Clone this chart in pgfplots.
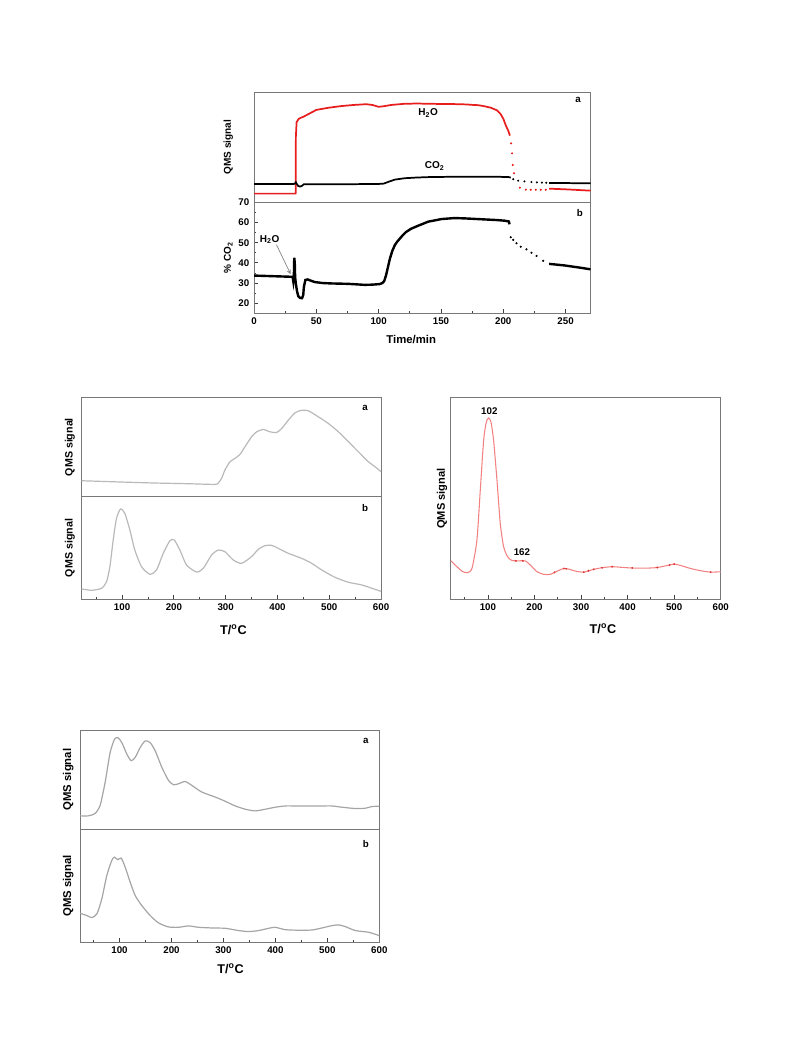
\documentclass[border=0pt]{standalone}
\usepackage{pgfplots}
\pgfplotsset{compat=1.18}
\usepackage{fontspec}
\setmainfont{Liberation Sans}

\definecolor{h2ored}{RGB}{232,30,30}
\definecolor{curvegray}{RGB}{185,185,185}
\definecolor{curvegrayb}{RGB}{165,165,165}
\definecolor{pinkline}{RGB}{242,130,130}
\definecolor{pinkmark}{RGB}{225,60,60}
\definecolor{framegray}{RGB}{120,120,120}

\newcommand\tk{\fontsize{7.3}{8}\selectfont\bfseries}

\pgfplotsset{
  panel/.style={
    scale only axis, anchor=south west,
    axis line style={draw=framegray, line width=0.75pt},
    tick style={draw=black!75, line width=0.6pt},
    tick align=inside, major tick length=3pt, minor tick length=1.8pt,
    xtick pos=left, ytick pos=left,
    tick label style={font=\tk},
    /pgf/number format/assume math mode=true,
  },
  qmsy/.style 2 args={
    ytick=\empty, ymin=0, ymax=100,
    ylabel={QMS signal},
    ylabel style={font=\fontsize{#2}{#2}\selectfont\bfseries,
      at={([xshift=-#1]axis description cs:0,0.5)}, anchor=center},
  },
  tlabel/.style 2 args={
    xlabel={T/\textsuperscript{o}C},
    xlabel style={font=\fontsize{9.5}{10}\selectfont\bfseries,
      at={([yshift=-#2]axis description cs:#1,0)}, anchor=center},
  },
}

\begin{document}
\begin{tikzpicture}
\path[use as bounding box] (0,0) rectangle (594.75pt,-792.75pt);

% ---------- top figure, panel a ----------
\begin{axis}[panel, at={(190.5pt,-151.73pt)}, width=252.4pt, height=82.5pt,
  xmin=0, xmax=270, xtick=\empty, qmsy={19.3pt}{7.5}]
\addplot[h2ored, line width=1.3pt] coordinates {
  (0,7.9) (33.4,7.9) (33.6,60) (34.2,73) (36,76) (40,78) (45,81) (50,84)
  (55,85) (60,86) (70,87.5) (80,88.5) (90,89.2) (95,88.5) (100,86.8)
  (105,87.5) (110,88.5) (120,89.5) (130,89.8) (140,89.6) (150,89.4)
  (160,89.3) (170,89) (175,88.6) (180,88.3) (185,87.3) (190,86) (195,83.6)
  (198,80) (200,76) (202,70) (204,65) (205.3,60.6)
};
\addplot[h2ored, only marks, mark=*, mark size=0.55pt] coordinates {
  (206.3,53.6) (207,44.5) (207.6,34) (208.6,26.4) (213.3,13.3) (218.1,11.5)
  (222.1,11.4) (226.1,11.4) (230.1,11.4) (234.1,11.4)
};
\addplot[h2ored, line width=1.3pt] coordinates {
  (236.8,12.4) (250,11.8) (260,11.2) (270,10.6)
};
\addplot[black, line width=1.3pt] coordinates {
  (0,16.7) (32,16.7) (33,17.2) (33.6,18.2) (34.3,16.8) (35.5,14.8) (37,14.3)
  (38.5,15) (40,16.4) (45,16.5) (60,16.4) (80,16.5) (100,16.7) (104,17)
  (107.6,18.5) (112.9,20.6) (121,21.9) (130,22.5) (142,23) (160,23.2)
  (182,23.3) (195,23.2) (204,23) (206,22.5)
};
\addplot[black, only marks, mark=*, mark size=0.55pt] coordinates {
  (208,21) (212,19.7) (217,19) (222.6,18.4) (227,18.1) (231,17.9) (234.5,17.8)
};
\addplot[black, line width=1.3pt] coordinates {(236.8,17.6) (270,17.3)};
\node[font=\fontsize{7.5}{8}\selectfont\bfseries] at (axis cs:139.7,80.9) {H\textsubscript{2}O};
\node[font=\fontsize{7.5}{8}\selectfont\bfseries] at (axis cs:145,33) {CO\textsubscript{2}};
\node[font=\tk] at (axis cs:260,93) {a};
\end{axis}

% ---------- top figure, panel b ----------
\begin{axis}[panel, at={(190.5pt,-234.98pt)}, width=252.4pt, height=83.25pt,
  xmin=0, xmax=270, ymin=15, ymax=70,
  xtick={0,50,...,250}, minor xtick={25,75,...,225},
  ytick={20,30,...,70}, minor ytick={15,25,...,65},
  ylabel={\% CO\textsubscript{2}},
  ylabel style={font=\fontsize{7.5}{8}\selectfont\bfseries,
    at={([xshift=-19.3pt]axis description cs:0,0.5)}, anchor=center},
  xlabel={Time/min},
  xlabel style={font=\fontsize{8.5}{9}\selectfont\bfseries,
    at={([yshift=-20pt]axis description cs:0.467,0)}, anchor=center}]
\addplot[black, line width=1.8pt] coordinates {
  (0,33.7) (10,33.5) (20,33.3) (30,33.1) (31,33) (31.5,31) (32,34) (32.3,42.5)
  (32.7,40) (33,33) (33.5,30) (34.5,26) (35.5,23.5) (37,22.6) (38.5,22.5)
  (39.5,24) (40,28) (41.2,31.5) (43,31.8) (45,31.3) (48.7,30.5) (55,30)
  (62,29.8) (75.5,29.6) (88.8,29.1) (95,29.2) (100.9,29.5) (103,30)
  (104.5,31) (106,34) (107.5,38) (109,42) (111,46) (113,48.8) (115,50.6)
  (117,52) (119.5,53.8) (122,55.3) (126,56.9) (131.7,58.4) (139.7,60.4)
  (150.4,61.7) (161,62.2) (170,62) (182.5,61.6) (195,61.2) (201,60.9)
  (204.5,60.5) (205,59.1)
};
\addplot[black, only marks, mark=*, mark size=0.6pt] coordinates {
  (206,52.7) (208,51.4) (210.6,49.7) (214,48) (218.6,46.7) (222.6,45)
  (226.7,43.4) (232,41)
};
\addplot[black, line width=1.8pt] coordinates {
  (236.8,39.5) (240,39.3) (249.4,38.7) (262.8,37.5) (270,36.8)
};
\draw[-stealth, gray, line width=0.5pt] (axis cs:18,49) -- (axis cs:29.4,34.4);
\node[font=\fontsize{7.5}{8}\selectfont\bfseries] at (axis cs:12.6,51.5) {H\textsubscript{2}O};
\node[font=\tk] at (axis cs:261.5,64.9) {b};
\end{axis}

% ---------- middle left, panel a ----------
\begin{axis}[panel, at={(61.28pt,-372.53pt)}, width=224.5pt, height=74.4pt,
  xmin=22, xmax=600, xtick=\empty, qmsy={8.8pt}{8}]
\addplot[curvegray, line width=0.9pt, smooth, tension=0.4] coordinates {
  (21.6,16.1) (98.9,14.8) (163.3,13.8) (227.7,13.1) (279.2,12.4) (285.6,13.8)
  (292.1,18.5) (298.5,26.8) (308.2,35.2) (317.8,38.6) (327.5,42.6)
  (337.2,50.3) (350,60.4) (359.8,65.4) (372.7,67.8) (385.6,65.4)
  (398.5,64.8) (408.2,68.8) (421,77.2) (433.9,84.6) (446.8,87.2)
  (459.7,86.6) (479,80.5) (498.4,73.8) (517.7,65.4) (537,55.4) (556.3,45.3)
  (575.6,35.2) (588.5,30.2) (600,25.2)
};
\node[font=\tk] at (axis cs:569,90) {a};
\end{axis}

% ---------- middle left, panel b ----------
\begin{axis}[panel, at={(61.28pt,-449.48pt)}, width=224.5pt, height=76.95pt,
  xmin=22, xmax=600, xtick={100,200,...,600}, minor xtick={50,150,...,550},
  qmsy={8.8pt}{8}, tlabel={0.507}{23pt}]
\addplot[curvegray, line width=0.9pt, smooth, tension=0.4] coordinates {
  (21.6,10.1) (40.9,8.8) (60.3,10.7) (70,17.2) (76.4,31.8) (82.8,57.8)
  (89.2,78.9) (97,88) (105.3,83.8) (115,67.5) (124.6,48) (137.5,31.8)
  (153.6,24.4) (166.5,28.6) (179.4,44.8) (192.3,57.1) (200.7,57.8)
  (211.6,48) (224.5,33.4) (243.8,26.6) (256.7,30.2) (272.8,43.2)
  (285.6,48) (298.6,46.4) (314.7,38.3) (330.8,35.1) (350,41.6) (363,48.7)
  (375.9,52.3) (388.8,52.6) (401.6,49.7) (421,44.8) (446.8,39.9)
  (466.1,35.1) (485.4,28.6) (511.2,21.4) (537,16.6) (562.7,14) (588.5,9.7)
  (600,7.8)
};
\node[font=\tk] at (axis cs:569,88.6) {b};
\end{axis}

% ---------- middle right ----------
\begin{axis}[panel, at={(338.03pt,-449.48pt)}, width=202.5pt, height=151pt,
  xmin=20, xmax=600, xtick={100,200,...,600}, minor xtick={50,150,...,550},
  qmsy={6.5pt}{8.3}, tlabel={0.564}{21.75pt}]
\addplot[pinkline, line width=0.8pt, smooth, tension=0.4] coordinates {
  (20.4,19.1) (33.3,16.2) (44,14) (54.8,13.2) (65.6,15.3) (76.3,29.4)
  (83.5,54.1) (90.7,78.9) (96.4,88) (101.4,90.1) (106.5,88) (112.2,78.9)
  (119.4,59.1) (126.5,37.6) (133.7,26.1) (142.3,21.1) (151.6,19.3)
  (166,19.1) (180.3,19.1) (191.1,17) (205.5,13.7) (219.8,12.4)
  (234.1,12.4) (248.5,14) (262.8,15.3) (273.6,15) (288,14) (305.9,13.5)
  (327.4,14.9) (345.3,15.7) (366.9,16.2) (392,15.8) (413.5,15.5)
  (442.2,15.5) (463.7,15.8) (485.2,16.8) (499.6,17.5) (514,16.8)
  (535.4,15.3) (557,14.2) (578.5,13.5) (600,13.7)
};
\addplot[pinkmark, only marks, mark=*, mark size=0.5pt] coordinates {
  (160,19.1) (175,19.1) (243,13.4) (263,15.3) (268,15.2) (305.9,13.5)
  (316,14.2) (327.4,14.9) (345.3,15.7) (366.9,16.2) (410,15.6) (463.7,15.8)
  (490,17) (500,17.5) (578.5,13.5)
};
\node[font=\tk] at (axis cs:103,93.7) {102};
\node[font=\tk] at (axis cs:173,23.6) {162};
\end{axis}

% ---------- bottom, panel a ----------
\begin{axis}[panel, at={(60pt,-621.75pt)}, width=224.5pt, height=74.25pt,
  xmin=24, xmax=600, xtick=\empty, qmsy={8.8pt}{8.5}]
\addplot[curvegrayb, line width=0.9pt, smooth, tension=0.4] coordinates {
  (24.3,13.3) (40.3,13.3) (53.1,15.7) (62.8,24) (72.4,47.3) (82,77.3)
  (90.4,90.7) (96.8,92.3) (104.5,87.3) (114.1,75.7) (122.5,69) (130.2,72.3)
  (139.8,82.3) (149.4,89) (159,87.3) (168.7,79) (181.5,62.3) (194.4,49)
  (204,44.7) (213.6,45.7) (226.4,48) (239.3,44) (258.5,37.3) (284.2,32.3)
  (303.5,28) (322.7,23.3) (342,20) (361.2,18.3) (380.5,20) (399.7,22)
  (419,23.3) (438.3,23.3) (463.9,23.3) (489.6,23.3) (508.9,23.3)
  (528.1,22) (553.8,20.7) (573.1,21) (585.9,22.7) (600,23)
};
\node[font=\tk] at (axis cs:574,89) {a};
\end{axis}

% ---------- bottom, panel b ----------
\begin{axis}[panel, at={(60pt,-706.73pt)}, width=224.5pt, height=84.75pt,
  xmin=24, xmax=600, xtick={100,200,...,600}, minor xtick={50,150,...,550},
  qmsy={8.8pt}{8.5}, tlabel={0.503}{19.5pt}]
\addplot[curvegrayb, line width=0.9pt, smooth, tension=0.4] coordinates {
  (24.3,25.7) (37.1,23.7) (46.7,21.9) (56.4,25.1) (66,38.5) (75.6,59.2)
  (85.2,72.5) (90.4,75.4) (96.8,73.1) (103.2,74.6) (110.9,66.6)
  (120.5,53.3) (130.2,41.4) (143,32.5) (159,23.7) (175.1,17.2) (194.4,13.6)
  (213.6,13.3) (232.9,14.5) (252.1,13.3) (277.8,12.7) (303.5,12.4)
  (329.2,10.4) (348.4,9.5) (367.7,10.4) (387,12.4) (399.7,13.3) (419,11.2)
  (444.7,10.7) (470.3,10.9) (489.6,12.7) (508.9,14.8) (521.7,15.4)
  (534.5,13.9) (553.8,10.4) (579.5,8.9) (600,5.9)
};
\node[font=\tk] at (axis cs:574,87) {b};
\end{axis}
\end{tikzpicture}
\end{document}
